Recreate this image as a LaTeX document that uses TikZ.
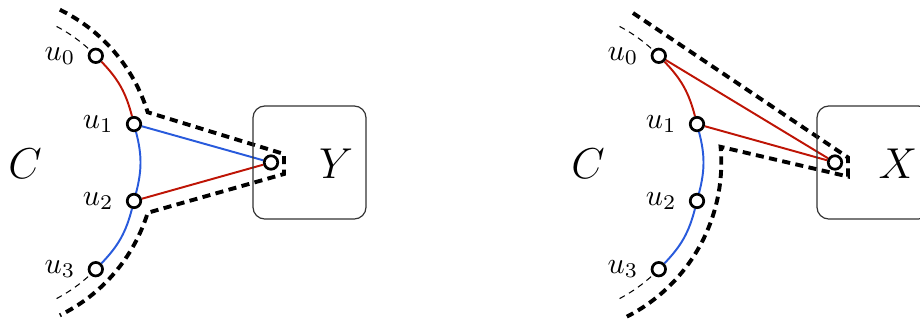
\documentclass[tikz,border=0pt]{standalone}
\usetikzlibrary{calc,backgrounds}
\definecolor{myred}{RGB}{190,20,5}
\definecolor{myblue}{RGB}{40,90,220}
\begin{document}
\begin{tikzpicture}[x=0.33333pt,y=0.33333pt,
 vtx/.style={circle,draw=black,fill=white,line width=0.9pt,minimum size=4.5pt,inner sep=0pt},
 vlab/.style={label={[label distance=0.6pt]left:#1}},
 redge/.style={myred,line width=0.65pt},
 bedge/.style={myblue,line width=0.65pt},
 thindash/.style={line width=0.35pt,dash pattern=on 2pt off 1.6pt},
 bigdash/.style={line width=1.3pt,dash pattern=on 2.7pt off 1.8pt},
 bigletter/.style={font=\fontsize{15.6}{18}\selectfont},
 panelbox/.style={draw=black!80,line width=0.4pt,rounded corners=4pt,minimum width=37.7pt,minimum height=37.7pt,inner sep=0pt}]
\useasboundingbox (0,0) rectangle (920,325);
\clip (0,0) rectangle (920,325);
% ---------- left panel ----------
\coordinate (O1) at (-14.7,162.5);
\node[vtx,vlab=$u_0$] (a0) at ($(O1)+(44:153.6)$) {};
\node[vtx,vlab=$u_1$] (a1) at ($(O1)+(14.5:153.6)$) {};
\node[vtx,vlab=$u_2$] (a2) at ($(O1)+(-14.5:153.6)$) {};
\node[vtx,vlab=$u_3$] (a3) at ($(O1)+(-44:153.6)$) {};
\node[panelbox] (boxY) at (309.5,162.5) {};
\node[vtx] (vY) at (271,162.5) {};
\node[bigletter] (lY) at (336,161.5) {$Y$};
\node[bigletter] (lC1) at (25,161) {$C$};
% ---------- right panel ----------
\coordinate (O2) at (548.3,162.5);
\node[vtx,vlab=$u_0$] (b0) at ($(O2)+(44:153.6)$) {};
\node[vtx,vlab=$u_1$] (b1) at ($(O2)+(14.5:153.6)$) {};
\node[vtx,vlab=$u_2$] (b2) at ($(O2)+(-14.5:153.6)$) {};
\node[vtx,vlab=$u_3$] (b3) at ($(O2)+(-44:153.6)$) {};
\node[panelbox] (boxX) at (873.5,162.5) {};
\node[vtx] (vX) at (835,162.5) {};
\node[bigletter] (lX) at (898,161.5) {$X$};
\node[bigletter] (lC2) at (588,161) {$C$};
\coordinate (sR) at (633,312);
\begin{scope}[on background layer]
 % left
 \draw[redge] (a0) to[bend left=14.75] (a1);
 \draw[bedge] (a1) to[bend left=14.5] (a2);
 \draw[bedge] (a2) to[bend left=14.75] (a3);
 \draw[bedge] (a1) -- (vY);
 \draw[redge] (a2) -- (vY);
 \draw[thindash] (a0.center) arc[start angle=44,end angle=64,radius=153.6];
 \draw[thindash] (a3.center) arc[start angle=-44,end angle=-64,radius=153.6];
 \draw[bigdash] ($(O1)+(64:170)$) arc[start angle=64,end angle=17.2,radius=170]
   -- ($(vY)+(13,8.5)$) -- ($(vY)+(13,-11.5)$) -- ($(O1)+(-17.2:170)$)
   arc[start angle=-17.2,end angle=-64,radius=170];
 % right
 \draw[redge] (b0) to[bend left=14.75] (b1);
 \draw[bedge] (b1) to[bend left=14.5] (b2);
 \draw[bedge] (b2) to[bend left=14.75] (b3);
 \draw[redge] (b0) -- (vX);
 \draw[redge] (b1) -- (vX);
 \draw[thindash] (b0.center) arc[start angle=44,end angle=64,radius=153.6];
 \draw[thindash] (b3.center) arc[start angle=-44,end angle=-64,radius=153.6];
 \draw[bigdash] (sR) -- ($(vX)+(13,5)$) -- ($(vX)+(13,-14)$) -- ($(O2)+(5.2:173)$)
   arc[start angle=5.2,end angle=-63,radius=173];
\end{scope}
\end{tikzpicture}
\end{document}
